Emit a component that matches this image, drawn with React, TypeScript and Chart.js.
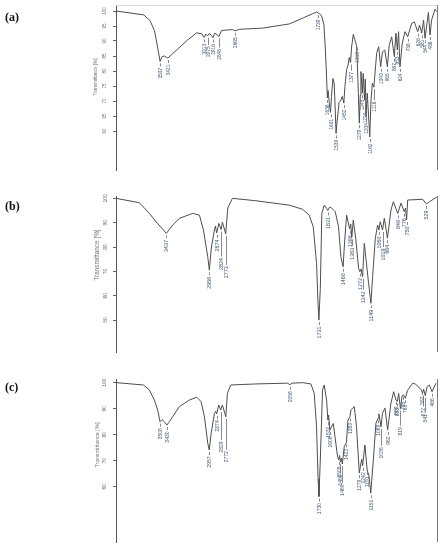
import React, { useEffect, useRef } from "react";
import { Chart, registerables } from "chart.js";

Chart.register(...registerables);

// ---------- Panel (a) ----------
const WN_A = [4000, 3690, 3620, 3570, 3535, 3507, 3485, 3460, 3421, 3380, 3300, 3200, 3100, 3040, 3013, 2995, 2975, 2958, 2932, 2916, 2895, 2870, 2848, 2820, 2700, 2665, 2620, 2360, 2060, 1914, 1800, 1755, 1739, 1725, 1700, 1675, 1658, 1645, 1636, 1628, 1615, 1601, 1590, 1574, 1560, 1548, 1539, 1528, 1505, 1485, 1470, 1452, 1440, 1420, 1405, 1392, 1377, 1365, 1346, 1330, 1310, 1300, 1279, 1268, 1261, 1245, 1235, 1220, 1212, 1204, 1190, 1162, 1148, 1133, 1116, 1085, 1062, 1040, 1020, 994, 965, 945, 917, 887, 870, 853, 840, 824, 800, 768, 738, 693, 663, 650, 626, 605, 581, 560, 544, 506, 488, 470, 432, 413];
const T_A = [100, 98.7, 96.8, 93.5, 88, 83.2, 84.8, 85, 84.3, 85.4, 87.6, 90.3, 92.7, 92.4, 91.2, 92.3, 91.7, 92.5, 91.9, 91.1, 92.6, 92.1, 91.5, 93.5, 93.8, 93.4, 93.9, 94.3, 95.7, 97.6, 99.1, 99.7, 99.3, 99.2, 98.3, 95.5, 87, 78, 71, 73.5, 69.5, 66.2, 71.5, 77.5, 76, 67, 59.2, 63, 69.5, 70.3, 71.5, 69.3, 74.8, 80.5, 82, 84.5, 82.8, 88, 92.2, 90.5, 88.5, 82, 62.6, 72, 79.8, 72.6, 79.2, 70.3, 77.3, 64.8, 72.6, 58, 70.3, 75.9, 74.6, 85.9, 88.1, 81.4, 86.4, 87, 81.4, 88.5, 91.4, 84.8, 92.6, 87, 93.1, 81.4, 89, 93.1, 91.4, 95.9, 96.4, 95.2, 93.1, 95.3, 92.6, 97, 90.9, 99.5, 92, 97, 100.6, 99.8];
const PEAKS_A = [3507, 3421, 3013, 2975, 2916, 2848, 2665, 1739, 1636, 1601, 1539, 1452, 1377, 1310, 1279, 1245, 1220, 1204, 1162, 1116, 1040, 965, 887, 853, 824, 738, 626, 581, 544, 488];
const TICKS_A = [100, 95, 90, 85, 80, 75, 70, 65, 60];

// ---------- Panel (b) ----------
const WN_B = [4000, 3739, 3627, 3552, 3437, 3366, 3291, 3142, 3067, 3022, 2974, 2956, 2933, 2899, 2888, 2874, 2850, 2824, 2810, 2773, 2750, 2698, 2437, 2063, 1914, 1839, 1794, 1757, 1742, 1731, 1715, 1698, 1671, 1645, 1631, 1615, 1597, 1548, 1511, 1485, 1460, 1447, 1421, 1405, 1388, 1375, 1363, 1346, 1317, 1287, 1272, 1260, 1242, 1223, 1175, 1149, 1130, 1100, 1074, 1060, 1045, 1019, 999, 964, 925, 898, 849, 813, 776, 762, 750, 738, 570, 529, 495, 413];
const T_B = [100, 98.2, 93.8, 90.4, 85.6, 89, 91.8, 93.8, 93.1, 87, 76, 70.5, 80, 87, 88.6, 85.8, 89.7, 87.2, 90.2, 85.4, 96, 100, 99, 97.2, 95.5, 93.1, 88.3, 73.3, 58, 50, 63, 93.8, 97.2, 95.9, 95, 96.2, 96.3, 94.5, 88.3, 76, 71.9, 80, 93.1, 90.5, 87.5, 89.5, 84, 91.1, 82.9, 71.3, 69.9, 71, 67.8, 81.5, 65.1, 56.9, 67.8, 83.6, 89, 87, 90.4, 87, 91.8, 83.6, 95.2, 98.6, 93.8, 98, 94.5, 96, 91.1, 99.3, 99.6, 97.7, 98.6, 100.5];
const PEAKS_B = [3437, 2956, 2874, 2824, 2773, 1731, 1631, 1460, 1388, 1363, 1272, 1242, 1149, 1060, 1019, 964, 849, 776, 750, 529];
const TICKS_B = [100, 90, 80, 70, 60, 50];

// ---------- Panel (c) ----------
const WN_C = [4000, 3694, 3627, 3571, 3534, 3508, 3485, 3460, 3430, 3403, 3291, 3179, 3097, 3048, 3011, 2974, 2957, 2936, 2899, 2885, 2874, 2851, 2829, 2810, 2772, 2754, 2717, 2437, 2080, 2056, 2030, 1914, 1820, 1783, 1757, 1740, 1730, 1709, 1690, 1671, 1645, 1630, 1622, 1608, 1570, 1522, 1509, 1500, 1490, 1479, 1469, 1447, 1423, 1406, 1383, 1373, 1335, 1310, 1279, 1261, 1252, 1242, 1216, 1191, 1170, 1151, 1122, 1093, 1069, 1060, 1036, 1020, 992, 962, 925, 895, 869, 853, 839, 819, 800, 785, 763, 740, 682, 650, 583, 572, 560, 541, 520, 495, 466, 421, 413];
const T_C = [100, 99.1, 97.2, 93.3, 89.5, 85, 85.8, 85, 83.7, 85, 90.8, 93.3, 94.4, 92.7, 86.9, 76.7, 74.1, 80.5, 88.2, 89, 88, 91.4, 89.5, 91.4, 86.9, 95.9, 99.1, 99.5, 99.8, 99.2, 99.8, 100, 99.5, 95.9, 83, 63, 56.2, 76.7, 97.2, 99.1, 93.3, 85.6, 87.5, 81.8, 84.3, 71.5, 70.3, 72, 69.5, 71, 68.7, 75.4, 77, 85.6, 87, 89.5, 90.8, 83, 65.2, 69, 70.5, 68, 76, 66.4, 64, 57.5, 70.3, 84.4, 86.3, 88, 83, 88.2, 90.2, 81.8, 92.1, 96.5, 93.3, 92.8, 95.9, 90, 95, 95.3, 94, 97, 99.8, 99.4, 97.2, 95.8, 97.5, 95, 98.5, 99.1, 96.5, 99.8, 99.8];
const PEAKS_C = [3508, 3430, 2957, 2874, 2829, 2772, 2056, 1730, 1630, 1608, 1509, 1490, 1469, 1423, 1383, 1279, 1242, 1191, 1151, 1069, 1036, 962, 869, 853, 819, 785, 763, 583, 572, 541, 466];
const TICKS_C = [100, 90, 80, 70, 60];

const Y_TITLE = "Transmittance [%]";
const FONT = '"Liberation Sans", Arial, sans-serif';

// extra dash length (px) for some peak labels (styling only)
const LEADS_A: Record<number, number> = { 2975: 4, 2848: 6, 1116: 8, 1220: 6, 1377: 3 };
const LEADS_B: Record<number, number> = { 2824: 22, 2773: 26, 1019: 12, 1242: 8, 1363: 4 };
const LEADS_C: Record<number, number> = { 2829: 25, 2772: 28, 1036: 14, 819: 12, 541: 12, 1490: 6, 1469: 14, 572: 8 };

type PanelCfg = {
  wn: number[];
  t: number[];
  peaks: number[];
  ticks: number[];
  leads: Record<number, number>;
  height: number;
  padTop: number;
  padBottom: number;
  yMin: number;
  yMax: number;
  tickFont: number;
  titleFont: number;
  peakFont: number;
  tickX: number;
  titleX: number;
  titleY: number;
  topLine: boolean;
};

function valueAt(wn: number[], t: number[], w: number) {
  for (let i = 0; i < wn.length; i++) if (wn[i] === w) return t[i];
  for (let i = 0; i < wn.length - 1; i++) {
    if ((wn[i] - w) * (wn[i + 1] - w) <= 0) {
      const f = (w - wn[i]) / (wn[i + 1] - wn[i]);
      return t[i] + f * (t[i + 1] - t[i]);
    }
  }
  return t[t.length - 1];
}

function overlayPlugin(cfg: PanelCfg) {
  return {
    id: "overlay",
    afterDraw(chart: any) {
      const { ctx, chartArea: ca, scales } = chart;
      const xs = scales.x;
      const ys = scales.y;
      ctx.save();
      // right frame line
      ctx.strokeStyle = "#7a7a7a";
      ctx.lineWidth = 1;
      ctx.beginPath();
      const rx = Math.round(ca.right) + 0.5;
      ctx.moveTo(rx, ca.top);
      ctx.lineTo(rx, ca.bottom);
      ctx.stroke();
      if (cfg.topLine) {
        ctx.strokeStyle = "#d8d8d8";
        ctx.beginPath();
        ctx.moveTo(ca.left, Math.round(ca.top) + 0.5);
        ctx.lineTo(ca.right, Math.round(ca.top) + 0.5);
        ctx.stroke();
      }
      // y tick labels (rotated)
      ctx.fillStyle = "#6a6a6a";
      ctx.font = `${cfg.tickFont}px ${FONT}`;
      ctx.textAlign = "center";
      ctx.textBaseline = "middle";
      cfg.ticks.forEach((v) => {
        const y = ys.getPixelForValue(v);
        ctx.save();
        ctx.translate(cfg.tickX, y);
        ctx.rotate(-Math.PI / 2);
        ctx.fillText(String(v), 0, 0);
        ctx.restore();
      });
      // y title
      ctx.fillStyle = "#7b6f70";
      ctx.font = `${cfg.titleFont}px ${FONT}`;
      ctx.save();
      ctx.translate(cfg.titleX, cfg.titleY);
      ctx.rotate(-Math.PI / 2);
      ctx.fillText(Y_TITLE, 0, 0);
      ctx.restore();
      // peak labels
      ctx.font = `${cfg.peakFont}px ${FONT}`;
      cfg.peaks.forEach((w) => {
        const tv = valueAt(cfg.wn, cfg.t, w);
        const x = Math.round(xs.getPixelForValue(w)) + 0.5;
        const y = ys.getPixelForValue(tv);
        const lead = cfg.leads[w] || 0;
        const y0 = y + 2;
        const y1 = y + 5 + lead;
        ctx.strokeStyle = "#6c6c6c";
        ctx.lineWidth = 0.8;
        ctx.beginPath();
        ctx.moveTo(x, y0);
        ctx.lineTo(x, y1);
        ctx.stroke();
        ctx.fillStyle = "#3f5878";
        ctx.save();
        ctx.translate(x, y1 + 1.5);
        ctx.rotate(-Math.PI / 2);
        ctx.textAlign = "right";
        ctx.textBaseline = "middle";
        ctx.fillText(String(w), 0, 0);
        ctx.restore();
      });
      ctx.restore();
    },
  };
}

const PANELS: { label: string; top: number; cfg: PanelCfg }[] = [
  {
    label: "(a)",
    top: 0,
    cfg: {
      wn: WN_A, t: T_A, peaks: PEAKS_A, ticks: TICKS_A, leads: LEADS_A,
      height: 180, padTop: 5, padBottom: 10, yMin: 47, yMax: 102,
      tickFont: 4.5, titleFont: 4.6, peakFont: 4.8, tickX: 105, titleX: 96, titleY: 77, topLine: true,
    },
  },
  {
    label: "(b)",
    top: 180,
    cfg: {
      wn: WN_B, t: T_B, peaks: PEAKS_B, ticks: TICKS_B, leads: LEADS_B,
      height: 180, padTop: 16, padBottom: 8, yMin: 36.9, yMax: 100.95,
      tickFont: 5, titleFont: 6.4, peakFont: 5.4, tickX: 105.5, titleX: 97.5, titleY: 75, topLine: false,
    },
  },
  {
    label: "(c)",
    top: 360,
    cfg: {
      wn: WN_C, t: T_C, peaks: PEAKS_C, ticks: TICKS_C, leads: LEADS_C,
      height: 190, padTop: 19, padBottom: 8, yMin: 38.7, yMax: 101.4,
      tickFont: 5, titleFont: 5.6, peakFont: 5, tickX: 105, titleX: 97, titleY: 85, topLine: false,
    },
  },
];

function Panel({ cfg }: { cfg: PanelCfg }) {
  const ref = useRef<HTMLCanvasElement | null>(null);
  useEffect(() => {
    if (!ref.current) return;
    const chart = new Chart(ref.current, {
      type: "line",
      data: {
        datasets: [
          {
            data: cfg.wn.map((w, i) => ({ x: w, y: cfg.t[i] })),
            borderColor: "#4d4d4d",
            borderWidth: 1,
            pointRadius: 0,
            tension: 0,
            fill: false,
          },
        ],
      },
      options: {
        responsive: false,
        animation: false,
        events: [],
        layout: { padding: { top: cfg.padTop, bottom: cfg.padBottom, left: 0, right: 9 } },
        plugins: { legend: { display: false }, tooltip: { enabled: false } },
        scales: {
          x: { type: "linear", reverse: true, min: 410, max: 4000, display: false },
          y: {
            type: "linear",
            min: cfg.yMin,
            max: cfg.yMax,
            ticks: { display: false },
            grid: { drawOnChartArea: false, drawTicks: true, tickLength: 3, color: "#666" },
            border: { display: true, color: "#555", width: 1 },
            afterBuildTicks: (scale: any) => {
              scale.ticks = cfg.ticks.map((v) => ({ value: v }));
            },
            afterFit: (scale: any) => {
              scale.width = 116;
            },
          } as any,
        },
      },
      plugins: [overlayPlugin(cfg)],
    });
    return () => chart.destroy();
  }, [cfg]);
  return <canvas ref={ref} width={446} height={cfg.height} style={{ display: "block" }} />;
}

export default function App() {
  return (
    <div style={{ position: "absolute", left: 0, top: 0, width: 446, height: 550, background: "#fff" }}>
      {PANELS.map((p) => (
        <div key={p.label} style={{ position: "absolute", left: 0, top: p.top, width: 446, height: p.cfg.height }}>
          <Panel cfg={p.cfg} />
        </div>
      ))}
      {PANELS.map((p, i) => (
        <div
          key={"l" + p.label}
          style={{
            position: "absolute",
            left: 5,
            top: [11, 200, 381][i],
            font: 'bold 12px "Liberation Serif", "Times New Roman", serif',
            lineHeight: "12px",
            color: "#111",
          }}
        >
          {p.label}
        </div>
      ))}
    </div>
  );
}
